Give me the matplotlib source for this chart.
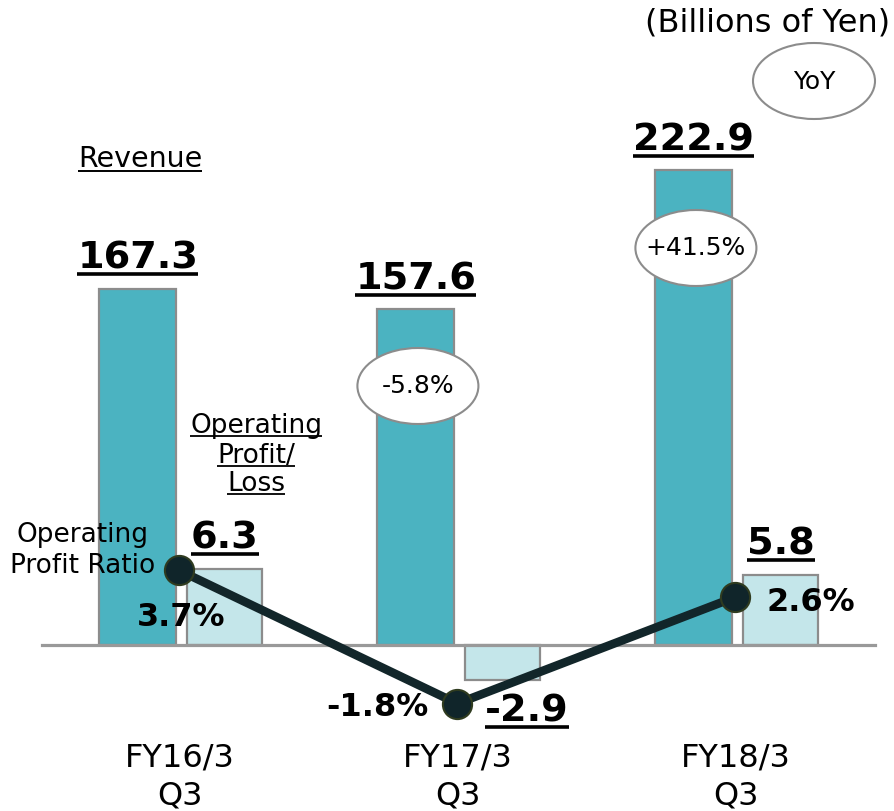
import matplotlib
matplotlib.use('Agg')
import matplotlib.pyplot as plt
from matplotlib.patches import Ellipse
from matplotlib.lines import Line2D
import numpy as np

# ---------------- data ----------------
categories = ['FY16/3\nQ3', 'FY17/3\nQ3', 'FY18/3\nQ3']
revenue = [167.3, 157.6, 222.9]          # Billions of Yen
op_profit = [6.3, -2.9, 5.8]             # Billions of Yen
op_ratio = [3.7, -1.8, 2.6]              # %
yoy_labels = ['', '-5.8%', '+41.5%']

plt.rcParams['font.family'] = ['DejaVu Sans']

W, H = 894, 811
fig = plt.figure(figsize=(W / 100, H / 100), dpi=100)
fig.patch.set_facecolor('white')

x = np.arange(len(categories))
unit = 278.0          # px per category
x0px = 181.0          # px of first category centre
xlim = (-x0px / unit, (W - x0px) / unit)
base = H - 645        # baseline px from bottom

rev_scale = 2.13
op_scale = 12.0
ratio_scale = 24.2
ratio_zero = H - 660

ax = fig.add_axes([0, 0, 1, 1])
ax2 = fig.add_axes([0, 0, 1, 1])
ax3 = fig.add_axes([0, 0, 1, 1])
for a in (ax, ax2, ax3):
    a.set_xlim(*xlim)
    a.axis('off')
ax.set_ylim(-base / rev_scale, (H - base) / rev_scale)
ax2.set_ylim(-base / op_scale, (H - base) / op_scale)
ax3.set_ylim(-ratio_zero / ratio_scale, (H - ratio_zero) / ratio_scale)

rev_off, rev_w = -0.155, 0.277
op_off, op_w = 0.158, 0.27
TEAL = '#4BB3C1'
LIGHT = '#C4E6EA'
EDGE = '#8C8C8C'

ax.bar(x + rev_off, revenue, width=rev_w, color=TEAL, edgecolor=EDGE, linewidth=1.6, zorder=2)
ax2.bar(x + op_off, op_profit, width=op_w, color=LIGHT, edgecolor=EDGE, linewidth=1.6, zorder=2)
ax2.axhline(0, xmin=42 / W, xmax=875 / W, color='#999999', linewidth=2.3, zorder=3)

# YoY ellipses over revenue bars
ell_w = 121 / unit
ell_h = 76 / rev_scale
yoy_pos_px = [None, 386, 248]   # label centre heights (px from top)
for i, lab in enumerate(yoy_labels):
    if not lab:
        continue
    yc = (645 - yoy_pos_px[i]) / rev_scale
    xc = x[i] + rev_off + 2 / unit
    ax.add_patch(Ellipse((xc, yc), ell_w, ell_h, facecolor='white', edgecolor=EDGE, linewidth=1.5, zorder=5))
    ax.text(xc, yc, lab, ha='center', va='center', fontsize=18, color='black', zorder=6)

# ratio line
ax3.plot(x - 0.006, op_ratio, color='#12262A', linewidth=6.2, marker='o', markersize=21,
         markerfacecolor='#10252A', markeredgecolor='#2F3B1F', markeredgewidth=1.5, zorder=4,
         solid_capstyle='round')

underlines = []


def place(a, xd, yd, s, dx=0, dy=0, size=20, weight='normal', ha='center', ul=False, gap=4, lw=1.4):
    t = a.annotate(s, xy=(xd, yd), xycoords='data', xytext=(dx, dy), textcoords='offset pixels',
                   ha=ha, va='baseline', fontsize=size, fontweight=weight, color='black', zorder=10,
                   annotation_clip=False)
    if ul:
        underlines.append((t, lambda a=a, xd=xd, yd=yd, dy=dy: a.transData.transform((xd, yd))[1] + dy, gap, lw))
    return t


def ftext(px, py, s, size=20, weight='normal', ha='center', ul=False, gap=4, lw=1.4):
    t = fig.text(px / W, 1 - py / H, s, ha=ha, va='baseline', fontsize=size, fontweight=weight, color='black', zorder=10)
    if ul:
        underlines.append((t, lambda py=py: H - py, gap, lw))
    return t


# value labels
for i, v in enumerate(revenue):
    place(ax, x[i] + rev_off, v, f'{v:.1f}', dy=20, size=27.5, weight='bold', ul=True, gap=5.5, lw=2.6)
for i, v in enumerate(op_profit):
    if v >= 0:
        place(ax2, x[i] + op_off, v, f'{v:.1f}', dy=21, size=27.5, weight='bold', ul=True, gap=5.5, lw=2.6)
    else:
        place(ax2, x[i] + op_off, v, f'{v:.1f}', dx=24, dy=-42, size=27.5, weight='bold', ul=True, gap=5.5, lw=2.6)

ratio_off = [(0, -56), (-82, -12), (74, -14)]
for i, v in enumerate(op_ratio):
    dx, dy = ratio_off[i]
    place(ax3, x[i], v, f'{v:.1f}%', dx=dx, dy=dy, size=23, weight='bold')

# category labels
for i, c in enumerate(categories):
    l1, l2 = c.split('\n')
    xp = x0px + unit * x[i] - 1
    ftext(xp, 767, l1, size=23)
    ftext(xp, 804, l2, size=23)

# other text
ftext(890, 32, '(Billions of Yen)', size=23, ha='right')
ftext(140, 167, 'Revenue', size=20.5, ul=True, gap=3.6, lw=1.4)
for py, s in zip([433, 463, 491], ['Operating', 'Profit/', 'Loss']):
    ftext(256, py, s, size=19, ul=True, gap=2.5, lw=1.3)
ftext(83, 542, 'Operating', size=19)
ftext(83, 573, 'Profit Ratio', size=19)

# YoY legend ellipse
fig.add_artist(Ellipse((814 / W, 1 - 81 / H), 122 / W, 76 / H, transform=fig.transFigure,
                       facecolor='white', edgecolor=EDGE, linewidth=1.5, zorder=5))
fig.text(814 / W, 1 - 82 / H, 'YoY', ha='center', va='center', fontsize=18, color='black', zorder=6)

# underlines
fig.canvas.draw()
r = fig.canvas.get_renderer()
for t, basefn, gap, lw in underlines:
    bb = t.get_window_extent(r)
    yb = basefn() - gap
    fig.add_artist(Line2D([bb.x0 / W, bb.x1 / W], [yb / H, yb / H], transform=fig.transFigure,
                          color='black', linewidth=lw, solid_capstyle='butt', zorder=10))

fig.savefig('out.png', dpi=100, facecolor='white')
